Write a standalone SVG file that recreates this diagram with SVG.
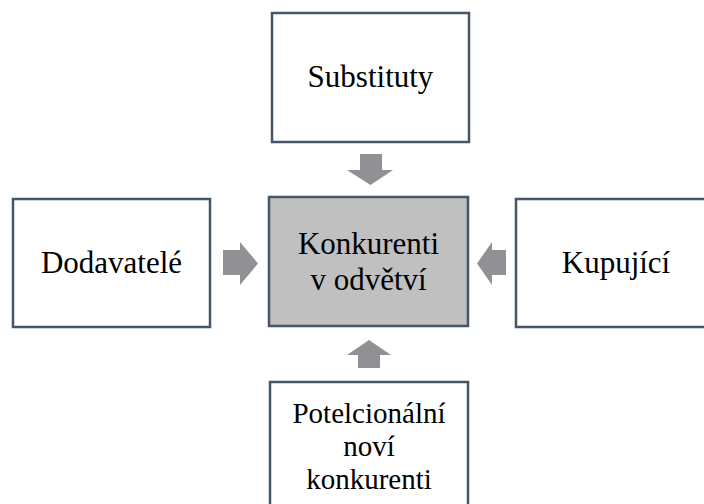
<svg xmlns="http://www.w3.org/2000/svg" width="704" height="504" viewBox="0 0 704 504">
<style>
.box{fill:#ffffff;stroke:#465567;stroke-width:2.5}
.core{fill:#c0c0c0;stroke:#465567;stroke-width:2.5}
.t{font-family:"Liberation Serif","Times New Roman",serif;font-size:31px;fill:#000;text-anchor:middle}
.s{font-size:29px}
.arr{fill:#909095}
</style>
<rect width="704" height="504" fill="#ffffff"/>
<g id="connectors">
<polygon class="arr" points="360,154 382,154 382,170 393,170 370.5,185 347,170 360,170"/>
<polygon class="arr" points="358,368 380,368 380,355 391,355 369,340 347,355 358,355"/>
<polygon class="arr" points="223,250 240,250 240,242 258,263.5 240,285 240,275 223,275"/>
<polygon class="arr" points="506,250 492,250 492,242 477,263.5 492,285 492,275 506,275"/>
</g>
<g id="substituty">
<rect class="box" x="272" y="13" width="197" height="129"/>
<text class="t" x="370.5" y="87">Substituty</text>
</g>
<g id="konkurenti">
<rect class="core" x="269" y="197" width="199" height="129"/>
<text class="t" x="368.5" y="254">Konkurenti</text>
<text class="t" x="368.5" y="290">v odvětví</text>
</g>
<g id="dodavatele">
<rect class="box" x="13" y="199" width="197" height="128"/>
<text class="t" x="111.5" y="273">Dodavatelé</text>
</g>
<g id="kupujici">
<rect class="box" x="516" y="199" width="197" height="128"/>
<text class="t" x="616" y="273">Kupující</text>
</g>
<g id="potencionalni">
<rect class="box" x="270" y="382" width="198" height="130"/>
<text class="t s" x="369" y="423">Potelcionální</text>
<text class="t s" x="369" y="456">noví</text>
<text class="t s" x="369" y="489">konkurenti</text>
</g>
</svg>
